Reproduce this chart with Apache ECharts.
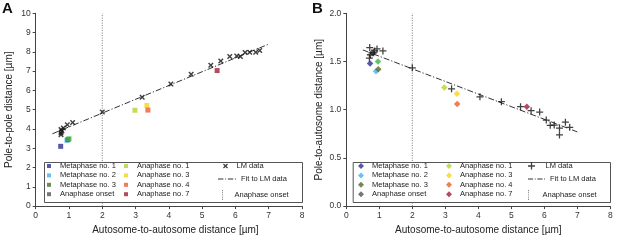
<!DOCTYPE html>
<html>
<head>
<meta charset="utf-8">
<script src="https://cdn.jsdelivr.net/npm/echarts@6/dist/echarts.min.js"></script>
<style>
  html, body { margin: 0; padding: 0; background: #fff; }
  #chart { width: 617px; height: 240px; }
</style>
</head>
<body>
<div id="chart"></div>
<script>
// panel A: pole-to-pole distance, panel B: pole-to-autosome distance
const phaseNames = ['Metaphase no. 1', 'Metaphase no. 2', 'Metaphase no. 3', 'Anaphase onset',
	'Anaphase no. 1', 'Anaphase no. 3', 'Anaphase no. 4', 'Anaphase no. 7'];
const phaseColors = ['#2e3192', '#45b2ea', '#4f6b2c', '#3db54a', '#b3d335', '#f8d417', '#f15a29', '#a21d3c'];

const phasesA = [[0.75, 3.10], [0.94, 3.41], [0.97, 3.45], [1.00, 3.49],
	[2.98, 4.97], [3.34, 5.22], [3.37, 4.98], [5.45, 7.03]];
const phasesB = [[0.72, 1.48], [0.90, 1.40], [0.97, 1.42], [0.96, 1.50],
	[2.97, 1.23], [3.35, 1.165], [3.36, 1.06], [5.47, 1.03]];

const lmA = [[0.76, 3.70], [0.76, 3.79], [0.76, 3.97], [0.79, 3.90], [0.83, 4.05], [0.95, 4.22],
	[1.11, 4.34], [2.00, 4.88], [3.20, 5.64], [4.06, 6.33], [4.67, 6.84], [5.26, 7.31],
	[5.56, 7.53], [5.83, 7.76], [6.04, 7.79], [6.15, 7.76], [6.29, 7.97], [6.43, 7.98],
	[6.61, 7.98], [6.73, 8.07]];
const lmB = [[0.71, 1.645], [0.70, 1.534], [0.73, 1.57], [0.78, 1.59], [0.83, 1.59], [0.86, 1.61],
	[0.93, 1.63], [1.11, 1.61], [2.00, 1.434], [3.19, 1.217], [4.05, 1.134], [4.70, 1.083],
	[5.28, 1.031], [5.60, 0.99], [5.86, 0.976], [6.06, 0.893], [6.18, 0.838], [6.30, 0.84],
	[6.46, 0.81], [6.64, 0.87], [6.77, 0.817], [6.46, 0.738]];

const fitA = [[0.5, 3.75], [7, 8.40]];
const fitB = [[0.5, 1.62], [7, 0.77]];
const onsetA = [[2, 0], [2, 10]];
const onsetB = [[2, 0], [2, 2]];

const font = 'Liberation Sans, Arial, sans-serif';
const squareIcon = 'path://M0,0H10V10H0Z';
const diamondIcon = 'path://M5,0L10,5L5,10L0,5Z';
const crossIcon = 'path://M0,1.8L1.8,0L5,3.2L8.2,0L10,1.8L6.8,5L10,8.2L8.2,10L5,6.8L1.8,10L0,8.2L3.2,5Z';
const plusIcon = 'path://M4.1,0H5.9V4.1H10V5.9H5.9V10H4.1V5.9H0V4.1H4.1Z';
const dashDotIcon = 'path://M0,0H6V1H0Z M8,0H9V1H8Z M11,0H17V1H11Z M19,0H20V1H19Z';
const dottedIcon = 'path://M0,0H1V1H0Z M0,2H1V3H0Z M0,4H1V5H0Z M0,6H1V7H0Z M0,8H1V9H0Z M0,10H1V11H0Z';

const axisBase = {
	type: 'value',
	min: 0,
	axisLine: { show: true, lineStyle: { color: '#444', width: 1 } },
	axisTick: { show: true, length: 3, lineStyle: { color: '#444' } },
	axisLabel: { color: '#333', fontSize: 8.5, fontFamily: font, margin: 5 },
	splitLine: { show: false },
	nameLocation: 'middle',
	nameTextStyle: { color: '#222', fontSize: 10, fontFamily: font }
};

function panelSeries(idx, phases, lm, fit, onset, markIcon, lmIcon, isA) {
	const out = [];
	out.push({
		type: 'line', name: 'Anaphase onset', xAxisIndex: idx, yAxisIndex: idx,
		data: onset, showSymbol: false, silent: true, color: '#777', z: 1,
		lineStyle: { color: '#777', width: 1, type: [1, 1.5] }
	});
	out.push({
		type: 'line', name: 'Fit to LM data', xAxisIndex: idx, yAxisIndex: idx,
		data: fit, showSymbol: false, silent: true, color: '#333', z: 2,
		lineStyle: { color: '#333', width: 1, type: [6, 2, 1.2, 2] }
	});
	out.push({
		type: 'scatter', name: 'LM data', xAxisIndex: idx, yAxisIndex: idx,
		data: lm, symbol: lmIcon, symbolSize: isA ? 5.5 : 7, color: '#111', z: 3
	});
	phaseNames.forEach((n, i) => {
		out.push({
			type: 'scatter', name: n, xAxisIndex: idx, yAxisIndex: idx,
			data: [phases[i]], symbol: markIcon, symbolSize: isA ? 5 : 6.5,
			color: phaseColors[i], z: 4
		});
	});
	return out;
}

function legendBlock(names, icon, left, top, w, h) {
	return {
		orient: 'vertical', left: left, top: top, padding: 0,
		itemWidth: w, itemHeight: h, itemGap: 0, selectedMode: false, z: 10,
		itemStyle: { borderWidth: 0 },
		textStyle: { color: '#222', fontSize: 7.5, fontFamily: font, lineHeight: 9.4 },
		data: names.map(n => ({ name: n, icon: icon }))
	};
}

const chart = echarts.init(document.getElementById('chart'), null, { renderer: 'canvas' });
chart.setOption({
	animation: false,
	backgroundColor: '#fff',
	title: [
		{ text: 'A', left: 2, top: 1, padding: 0, textStyle: { fontSize: 15, fontWeight: 'bold', fontFamily: font, color: '#111' } },
		{ text: 'B', left: 312, top: 1, padding: 0, textStyle: { fontSize: 15, fontWeight: 'bold', fontFamily: font, color: '#111' } }
	],
	grid: [
		{ left: 35.7, top: 13.3, width: 266.3, height: 193.4 },
		{ left: 346.3, top: 13.3, width: 264, height: 193.4 }
	],
	xAxis: [
		{ ...axisBase, gridIndex: 0, max: 8, interval: 1, name: 'Autosome-to-autosome distance [µm]', nameGap: 17,
			nameTextStyle: { ...axisBase.nameTextStyle, padding: [0, 0, 0, 13] } },
		{ ...axisBase, gridIndex: 1, max: 8, interval: 1, name: 'Autosome-to-autosome distance [µm]', nameGap: 17 }
	],
	yAxis: [
		{ ...axisBase, gridIndex: 0, max: 10, interval: 1, name: 'Pole-to-pole distance [µm]', nameGap: 21 },
		{ ...axisBase, gridIndex: 1, max: 2, interval: 0.5, name: 'Pole-to-autosome distance [µm]', nameGap: 22,
			axisLabel: { ...axisBase.axisLabel, formatter: v => v.toFixed(1) } }
	],
	graphic: [
		{ type: 'rect', left: 44, top: 162, z: 8, shape: { width: 258, height: 40 },
			style: { fill: '#fff', stroke: '#555', lineWidth: 1 } },
		{ type: 'rect', left: 352.7, top: 162, z: 8, shape: { width: 257.3, height: 40 },
			style: { fill: '#fff', stroke: '#555', lineWidth: 1 } }
	],
	legend: [
		legendBlock(phaseNames.slice(0, 4), squareIcon, 47, 161.3, 12, 4),
		legendBlock(phaseNames.slice(4), squareIcon, 124, 161.3, 12, 4),
		legendBlock(['LM data'], crossIcon, 223, 161.3, 12, 5),
		legendBlock(['Fit to LM data'], dashDotIcon, 218, 174.3, 18, 2),
		legendBlock(['Anaphase onset'], dottedIcon, 222, 190, 14, 10),
		legendBlock(phaseNames.slice(0, 4), diamondIcon, 358, 161.3, 12, 6),
		legendBlock(phaseNames.slice(4), diamondIcon, 446, 161.3, 12, 6),
		legendBlock(['LM data'], plusIcon, 528, 161.3, 18, 7),
		legendBlock(['Fit to LM data'], dashDotIcon, 528, 174.3, 17, 2),
		legendBlock(['Anaphase onset'], dottedIcon, 528, 190, 18, 10)
	],
	series: [
		...panelSeries(0, phasesA, lmA, fitA, onsetA, squareIcon, crossIcon, true),
		...panelSeries(1, phasesB, lmB, fitB, onsetB, diamondIcon, plusIcon, false)
	]
});
window.addEventListener('resize', () => chart.resize());
</script>
</body>
</html>
